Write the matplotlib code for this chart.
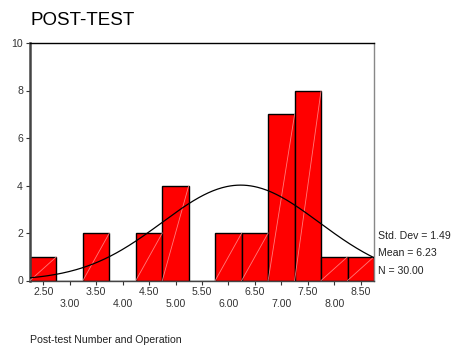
import matplotlib.pyplot as plt
import numpy as np

plt.rcParams['font.family'] = ['Liberation Sans', 'DejaVu Sans']

# histogram of post-test scores, bins of width 0.5
bin_centers = [2.5, 3.0, 3.5, 4.0, 4.5, 5.0, 5.5, 6.0, 6.5, 7.0, 7.5, 8.0, 8.5]
counts = [1, 0, 2, 0, 2, 4, 0, 2, 2, 7, 8, 1, 1]
bin_width = 0.5

std_dev = 1.49
mean = 6.23
n_obs = 30

upper_ticks = [2.5, 3.5, 4.5, 5.5, 6.5, 7.5, 8.5]
lower_ticks = [3.0, 4.0, 5.0, 6.0, 7.0, 8.0]
y_ticks = [0, 2, 4, 6, 8, 10]

fig = plt.figure(figsize=(4.52, 3.47), dpi=100)
ax = fig.add_axes([30 / 452, 66.5 / 347, 344 / 452, 237.5 / 347])

ax.bar(bin_centers, counts, width=bin_width, color='#ff0000',
       edgecolor='black', linewidth=1.0, zorder=2)

# faint diagonal streak inside each bar
for c, h in zip(bin_centers, counts):
    if h > 0:
        ax.plot([c - bin_width / 2, c + bin_width / 2], [0, h],
                color='#ff9a9a', lw=0.6, alpha=0.8, zorder=3)

# fitted normal curve scaled to the histogram
xs = np.linspace(2.25, 8.75, 300)
ys = n_obs * bin_width * np.exp(-0.5 * ((xs - mean) / std_dev) ** 2) / (std_dev * np.sqrt(2 * np.pi))
ax.plot(xs, ys, color='black', lw=0.9, zorder=4)

ax.set_xlim(2.25, 8.75)
ax.set_ylim(0, 10)

fs = 7.6
ax.set_xticks(upper_ticks)
ax.set_xticklabels([f"{t:.2f}" for t in upper_ticks])
ax.set_xticks(lower_ticks, minor=True)
ax.set_xticklabels([f"{t:.2f}" for t in lower_ticks], minor=True)
ax.tick_params(axis='x', which='major', length=3, width=0.8, pad=2,
               labelsize=fs, colors='#333333')
ax.tick_params(axis='x', which='minor', length=3, width=0.8, pad=10.5,
               labelsize=fs, colors='#333333')
ax.set_yticks(y_ticks)
ax.tick_params(axis='y', length=3, width=0.8, pad=2, labelsize=fs,
               colors='#333333')

ax.spines['left'].set_linewidth(1.8)
ax.spines['left'].set_color('#444444')
ax.spines['bottom'].set_linewidth(1.0)
ax.spines['bottom'].set_color('#444444')
ax.spines['top'].set_linewidth(1.0)
ax.spines['top'].set_color('black')
ax.spines['right'].set_linewidth(1.0)
ax.spines['right'].set_color('#888888')

stats = [f"Std. Dev = {std_dev:.2f}", f"Mean = {mean:.2f}", f"N = {n_obs:.2f}"]
for i, s in enumerate(stats):
    fig.text(378 / 452, 1 - (236 + 17.3 * i) / 347, s, fontsize=fs,
             color='#222222', ha='left', va='center')

fig.text(30 / 452, 1 - 20.5 / 347, "POST-TEST", fontsize=13.5,
         ha='left', va='center')
fig.text(30 / 452, 1 - 340 / 347, "Post-test Number and Operation",
         fontsize=fs, color='#222222', ha='left', va='center')

fig.savefig('out.png', dpi=100)
